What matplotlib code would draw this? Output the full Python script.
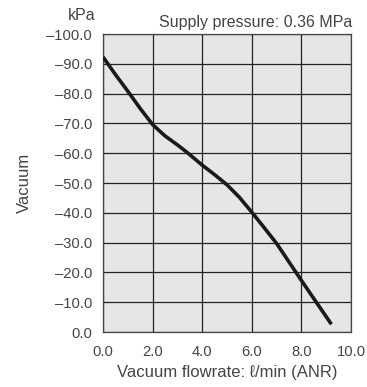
import matplotlib
matplotlib.use("Agg")
import matplotlib.pyplot as plt
from matplotlib.ticker import FixedLocator

flow = [0.0, 0.5, 1.0, 1.5, 2.0, 2.5, 3.0, 3.4, 4.0, 4.5, 5.0, 5.5, 6.0, 6.5, 7.0, 7.5, 8.0, 8.6, 9.21]
vacuum = [-92.3, -86.4, -80.8, -75.0, -69.6, -65.8, -62.8, -60.2, -56.0, -52.8, -49.4, -45.2, -40.2, -35.0, -29.7, -23.5, -17.3, -10.0, -2.6]
xticks = [0, 2, 4, 6, 8, 10]
yticks = [-100, -90, -80, -70, -60, -50, -40, -30, -20, -10, 0]

plt.rcParams['font.family'] = ['Liberation Sans', 'DejaVu Sans']
fig = plt.figure(figsize=(3.67, 3.87), dpi=100)
ax = fig.add_axes([0.2807, 0.1421, 0.6757, 0.770])
ax.set_facecolor('#e6e6e6')
ax.plot(flow, vacuum, color='#1a1a1a', lw=2.6, solid_capstyle='butt',
        solid_joinstyle='round', zorder=3)
ax.set_xlim(0, 10)
ax.set_ylim(0, -100)
ax.xaxis.set_major_locator(FixedLocator(xticks))
ax.yaxis.set_major_locator(FixedLocator(yticks))
ax.set_xticklabels([f"{v:.1f}" for v in xticks])
ax.set_yticklabels([("\u2013" if v < 0 else "") + f"{abs(v):.1f}" for v in yticks])
ax.grid(True, color='#222222', lw=0.9)
ax.tick_params(length=0, labelsize=10.6, colors='#444444')
ax.tick_params(axis='y', pad=8)
ax.tick_params(axis='x', pad=9)
for s in ax.spines.values():
    s.set_color('#444444')
    s.set_linewidth(0.9)
ax.set_xlabel("Vacuum flowrate: \u2113/min (ANR)", fontsize=12, color='#444444', labelpad=5)
ax.set_ylabel("Vacuum", fontsize=12, color='#444444', labelpad=10)
fig.text(82/367, 1-16/387, "kPa", ha='center', va='center', fontsize=11.5, color='#444444')
fig.text(352/367, 1-22/387, "Supply pressure: 0.36 MPa", ha='right', va='center', fontsize=11.5, color='#444444')
fig.savefig("out.png", dpi=100)
